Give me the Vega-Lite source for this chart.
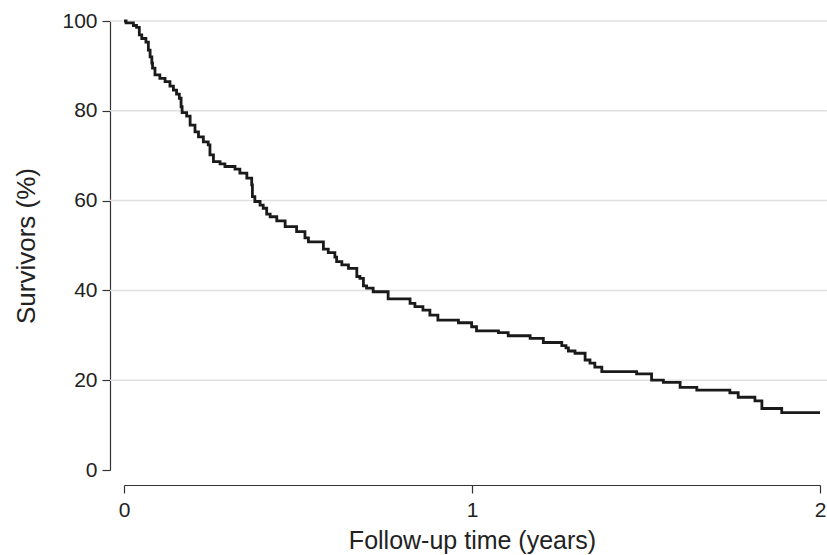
{
  "$schema": "https://vega.github.io/schema/vega-lite/v6.json",
  "width": 696,
  "height": 449,
  "autosize": {"type": "none"},
  "padding": {"left": 124, "top": 21, "right": 7, "bottom": 85},
  "background": "white",
  "config": {
    "view": {"stroke": null},
    "font": "Liberation Sans",
    "axis": {
      "labelFont": "Liberation Sans",
      "titleFont": "Liberation Sans",
      "labelColor": "#222222",
      "titleColor": "#222222",
      "titleFontWeight": "normal",
      "domainColor": "#333333",
      "tickColor": "#333333",
      "domainWidth": 1.2,
      "tickWidth": 1.2
    }
  },
  "datasets": {
    "gridlevels": [
      {"level": 20},
      {"level": 40},
      {"level": 60},
      {"level": 80},
      {"level": 100}
    ],
    "km": [
      {"time": 0, "survival": 100},
      {"time": 0.006, "survival": 99.6},
      {"time": 0.027, "survival": 99.0},
      {"time": 0.036, "survival": 98.6},
      {"time": 0.044, "survival": 96.9},
      {"time": 0.051, "survival": 96.1},
      {"time": 0.063, "survival": 95.3},
      {"time": 0.070, "survival": 93.5},
      {"time": 0.075, "survival": 92.0},
      {"time": 0.080, "survival": 90.6},
      {"time": 0.082, "survival": 89.5},
      {"time": 0.089, "survival": 88.0},
      {"time": 0.103, "survival": 87.2},
      {"time": 0.118, "survival": 86.5},
      {"time": 0.132, "survival": 85.5},
      {"time": 0.142, "survival": 84.6},
      {"time": 0.151, "survival": 83.7},
      {"time": 0.159, "survival": 82.8},
      {"time": 0.164, "survival": 80.9},
      {"time": 0.167, "survival": 79.6},
      {"time": 0.180, "survival": 78.8},
      {"time": 0.190, "survival": 76.8},
      {"time": 0.204, "survival": 75.3},
      {"time": 0.214, "survival": 74.2},
      {"time": 0.228, "survival": 73.1},
      {"time": 0.242, "survival": 72.4},
      {"time": 0.247, "survival": 70.2},
      {"time": 0.257, "survival": 68.7},
      {"time": 0.276, "survival": 68.2},
      {"time": 0.290, "survival": 67.6},
      {"time": 0.319, "survival": 67.0},
      {"time": 0.333, "survival": 66.1},
      {"time": 0.353, "survival": 65.0},
      {"time": 0.367, "survival": 63.5},
      {"time": 0.369, "survival": 60.9},
      {"time": 0.376, "survival": 59.8},
      {"time": 0.391, "survival": 59.0},
      {"time": 0.400, "survival": 58.3},
      {"time": 0.410, "survival": 57.0},
      {"time": 0.420, "survival": 56.4},
      {"time": 0.439, "survival": 55.5},
      {"time": 0.463, "survival": 54.2},
      {"time": 0.496, "survival": 53.1},
      {"time": 0.520, "survival": 51.7},
      {"time": 0.530, "survival": 50.8},
      {"time": 0.573, "survival": 49.2},
      {"time": 0.587, "survival": 48.4},
      {"time": 0.606, "survival": 47.4},
      {"time": 0.611, "survival": 46.4},
      {"time": 0.626, "survival": 45.7},
      {"time": 0.645, "survival": 44.9},
      {"time": 0.669, "survival": 43.1},
      {"time": 0.678, "survival": 42.7},
      {"time": 0.688, "survival": 41.0},
      {"time": 0.697, "survival": 40.5},
      {"time": 0.716, "survival": 39.7},
      {"time": 0.759, "survival": 38.1},
      {"time": 0.822, "survival": 37.1},
      {"time": 0.836, "survival": 36.4},
      {"time": 0.859, "survival": 35.6},
      {"time": 0.879, "survival": 34.5},
      {"time": 0.902, "survival": 33.4},
      {"time": 0.961, "survival": 32.8},
      {"time": 0.999, "survival": 31.9},
      {"time": 1.013, "survival": 31.0},
      {"time": 1.076, "survival": 30.6},
      {"time": 1.104, "survival": 29.9},
      {"time": 1.167, "survival": 29.3},
      {"time": 1.205, "survival": 28.4},
      {"time": 1.258, "survival": 27.7},
      {"time": 1.270, "survival": 27.2},
      {"time": 1.277, "survival": 26.5},
      {"time": 1.296, "survival": 26.0},
      {"time": 1.325, "survival": 24.5},
      {"time": 1.339, "survival": 23.8},
      {"time": 1.353, "survival": 22.9},
      {"time": 1.373, "survival": 21.9},
      {"time": 1.473, "survival": 21.4},
      {"time": 1.516, "survival": 20.0},
      {"time": 1.550, "survival": 19.5},
      {"time": 1.598, "survival": 18.4},
      {"time": 1.646, "survival": 17.8},
      {"time": 1.741, "survival": 17.2},
      {"time": 1.765, "survival": 16.2},
      {"time": 1.813, "survival": 15.4},
      {"time": 1.833, "survival": 13.7},
      {"time": 1.890, "survival": 12.8},
      {"time": 2.0, "survival": 12.8}
    ]
  },
  "layer": [
    {
      "data": {"name": "gridlevels"},
      "mark": {"type": "rule", "color": "#e0e0e0", "strokeWidth": 1.5, "clip": false},
      "encoding": {
        "y": {"field": "level", "type": "quantitative"},
        "x": {"datum": -0.0402},
        "x2": {"datum": 2.0201}
      }
    },
    {
      "data": {"name": "km"},
      "mark": {"type": "line", "interpolate": "step-after", "color": "#1a1a1a", "strokeWidth": 2.8},
      "encoding": {
        "x": {
          "field": "time",
          "type": "quantitative",
          "scale": {"domain": [0, 2], "nice": false},
          "axis": {
            "values": [0, 1, 2],
            "labelExpr": "format(datum.value, 'd')",
            "offset": 15,
            "tickSize": 8,
            "labelPadding": 6,
            "labelFontSize": 21,
            "labelOverlap": false,
            "labelFlush": false,
            "grid": false,
            "title": "Follow-up time (years)",
            "titleFontSize": 25,
            "titlePadding": 8
          }
        },
        "y": {
          "field": "survival",
          "type": "quantitative",
          "scale": {"domain": [0, 100], "nice": false},
          "axis": {
            "values": [0, 20, 40, 60, 80, 100],
            "offset": 14,
            "tickSize": 8,
            "labelPadding": 5,
            "labelFontSize": 21,
            "labelOverlap": false,
            "labelFlush": false,
            "grid": false,
            "title": "Survivors (%)",
            "titleFontSize": 26,
            "titlePadding": 22
          }
        }
      }
    }
  ]
}
